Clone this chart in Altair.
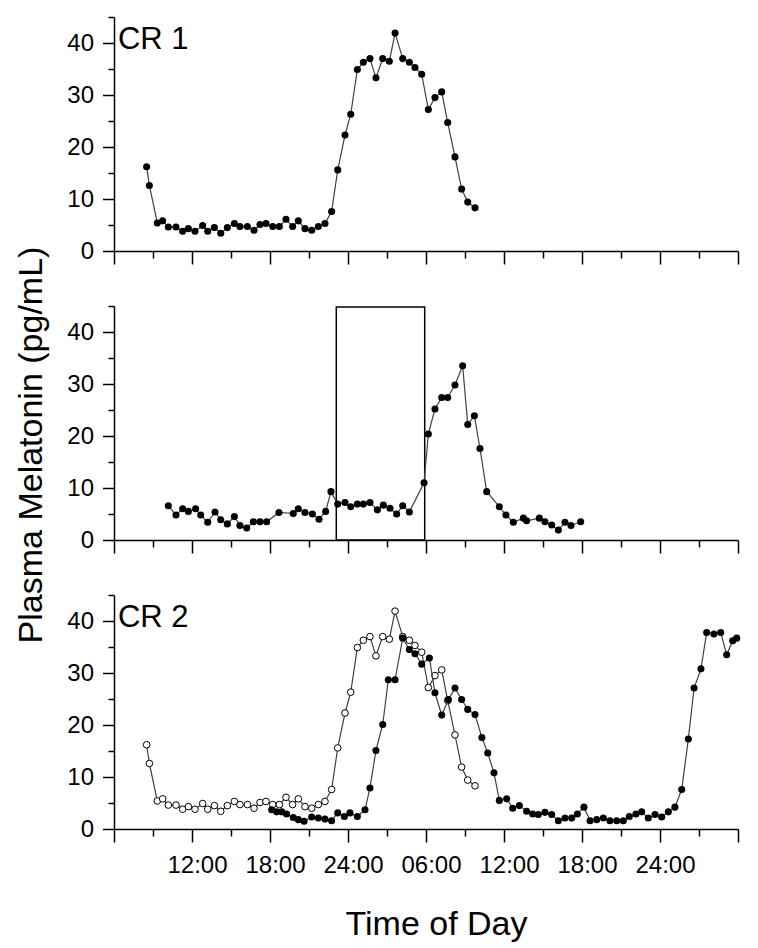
import altair as alt
import pandas as pd

# ---------------- data ----------------
# CR 1 (top panel; also repeated as open circles in the bottom panel)
CR1_T = [8.51, 8.72, 9.33, 9.74, 10.18, 10.77, 11.28, 11.72, 12.23, 12.82,
         13.21, 13.72, 14.21, 14.72, 15.26, 15.69, 16.26, 16.77, 17.23, 17.69,
         18.21, 18.72, 19.23, 19.74, 20.18, 20.69, 21.21, 21.72, 22.23, 22.74,
         23.21, 23.77, 24.21, 24.72, 25.18, 25.69, 26.15, 26.67, 27.18, 27.62,
         28.21, 28.72, 29.15, 29.67, 30.18, 30.69, 31.21, 31.67, 32.23, 32.74,
         33.21, 33.77]
CR1_V = [16.2, 12.6, 5.4, 5.8, 4.6, 4.6, 3.8, 4.3, 3.8, 4.9,
         3.8, 4.5, 3.4, 4.5, 5.3, 4.7, 4.7, 4.0, 5.1, 5.3,
         4.7, 4.7, 6.1, 4.7, 5.8, 4.3, 4.0, 4.7, 5.3, 7.6,
         15.6, 22.3, 26.3, 34.9, 36.3, 37.0, 33.3, 37.0, 36.5, 41.9,
         37.0, 36.3, 35.3, 34.0, 27.2, 29.5, 30.6, 24.7, 18.1, 11.9,
         9.4, 8.3]

# middle panel
MID_T = [10.18, 10.77, 11.28, 11.72, 12.28, 12.67, 13.21, 13.77, 14.21, 14.72,
         15.26, 15.69, 16.21, 16.72, 17.23, 17.74, 18.69, 19.79, 20.18, 20.69,
         21.26, 21.77, 22.28, 22.69, 23.21, 23.77, 24.21, 24.72, 25.18, 25.69,
         26.26, 26.72, 27.23, 27.74, 28.21, 28.72, 29.85, 30.18, 30.69, 31.21,
         31.67, 32.23, 32.82, 33.21, 33.72, 34.15, 34.67, 35.64, 36.15, 36.72,
         37.49, 37.74, 38.72, 39.15, 39.67, 40.18, 40.69, 41.15, 41.9]
MID_V = [6.6, 4.8, 6.0, 5.5, 6.0, 4.8, 3.4, 5.4, 3.9, 3.1,
         4.5, 2.8, 2.3, 3.5, 3.5, 3.5, 5.3, 5.1, 6.0, 5.3,
         5.0, 4.0, 5.5, 9.3, 6.9, 7.2, 6.4, 6.9, 6.9, 7.2,
         5.8, 6.7, 6.1, 5.0, 6.6, 5.4, 11.0, 20.4, 25.2, 27.4,
         27.4, 29.8, 33.5, 22.2, 23.9, 17.6, 9.3, 6.4, 4.8, 3.4,
         4.2, 3.7, 4.2, 3.5, 2.9, 1.9, 3.4, 2.8, 3.5]

# box drawn in the middle panel
BOX_START = [23.1]
BOX_END = [29.9]
BOX_BOTTOM = [0]
BOX_TOP = [44.8]

# CR 2 (bottom panel, filled circles)
CR2_T = [18.13, 18.51, 18.9, 19.28, 19.79, 20.18, 20.62, 21.21, 21.72, 22.23,
         22.74, 23.21, 23.72, 24.15, 24.72, 25.31, 25.69, 26.15, 26.67, 27.10,
         27.62, 28.21, 28.72, 29.15, 29.67, 30.26, 30.69, 31.21, 31.72, 32.23,
         32.74, 33.21, 33.77, 34.3, 34.75, 35.23, 35.64, 36.21, 36.67, 37.18,
         37.74, 38.21, 38.64, 39.15, 39.67, 40.18, 40.69, 41.21, 41.64, 42.15,
         42.62, 43.13, 43.64, 44.15, 44.67, 45.18, 45.64, 46.15, 46.59, 47.10,
         47.62, 48.13, 48.64, 49.15, 49.67, 50.18, 50.62, 51.15, 51.59, 52.15,
         52.67, 53.13, 53.59, 53.9]
CR2_V = [3.7, 3.3, 3.3, 2.9, 2.2, 1.8, 1.5, 2.3, 2.1, 1.9,
         1.6, 3.1, 2.4, 3.1, 2.4, 3.7, 7.9, 15.1, 20.1, 28.7,
         28.7, 36.7, 34.5, 33.7, 31.7, 32.9, 26.2, 21.9, 24.9, 27.1,
         24.9, 23.0, 22.0, 17.6, 14.6, 10.8, 5.5, 5.8, 4.0, 4.5,
         3.4, 2.9, 2.8, 3.2, 2.8, 1.6, 2.1, 2.1, 2.9, 4.2,
         1.6, 1.8, 2.1, 1.6, 1.6, 1.6, 2.4, 2.9, 3.3, 2.1,
         2.8, 2.3, 3.3, 4.2, 7.6, 17.3, 27.1, 30.8, 37.8, 37.5,
         37.8, 33.5, 36.2, 36.7]

# axis ticks (hours from midnight of day 1)
X_MAJOR = [6, 12, 18, 24, 30, 36, 42, 48, 54]
X_MINOR = [9, 15, 21, 27, 33, 39, 45, 51]
Y_MAJOR = [0, 10, 20, 30, 40]
Y_MINOR = [5, 15, 25, 35, 45]

# ---------------- chart ----------------
FONT = "Liberation Sans"
W, H = 624, 234
LINE_COLOR = "#404040"
DOT_SIZE = 50

cr1 = pd.DataFrame({"t": CR1_T, "v": CR1_V})
mid = pd.DataFrame({"t": MID_T, "v": MID_V})
cr2 = pd.DataFrame({"t": CR2_T, "v": CR2_V})
box = pd.DataFrame({"t0": BOX_START, "t1": BOX_END, "v0": BOX_BOTTOM, "v1": BOX_TOP})

xs = alt.Scale(domain=[6, 54], nice=False, zero=False)
ys = alt.Scale(domain=[0, 45], nice=False, zero=True)

LABEL_EXPR = ("(datum.value == 6 || datum.value == 54) ? '' : "
              "((datum.value % 24) == 0 ? '24:00' : "
              "(((datum.value % 24) < 10) ? '0' : '') + (datum.value % 24) + ':00')")


def x_major(labels, title=None):
    kw = dict(values=X_MAJOR, orient="bottom", tickSize=13, tickWidth=1.5,
              domainWidth=1.5, grid=False, labels=labels)
    if labels:
        kw.update(labelExpr=LABEL_EXPR, labelFontSize=24, labelPadding=11,
                  labelOffset=5, labelFlush=False, labelOverlap=False)
    if title:
        kw.update(title=title, titleFontSize=34, titleFontWeight="normal",
                  titleX=322, titleY=105.6, titleBaseline="alphabetic",
                  titleAlign="center")
    else:
        kw["title"] = None
    return alt.Axis(**kw)


def x_minor():
    return alt.Axis(values=X_MINOR, orient="bottom", tickSize=7, tickWidth=1.5,
                    domain=False, labels=False, grid=False, title=None)


def y_major(title=None):
    kw = dict(values=Y_MAJOR, orient="left", tickSize=11.5, tickWidth=1.5,
              domainWidth=1.5, grid=False, labelFontSize=24, labelPadding=9,
              format="d")
    if title:
        kw.update(title=title, titleFontSize=34, titleFontWeight="normal",
                  titleAngle=270, titleX=-73, titleY=138.5,
                  titleBaseline="alphabetic", titleAlign="center")
    else:
        kw["title"] = None
    return alt.Axis(**kw)


def y_minor():
    return alt.Axis(values=Y_MINOR, orient="left", tickSize=6, tickWidth=1.5,
                    domain=False, labels=False, grid=False, title=None)


def line(df, xa, ya):
    return alt.Chart(df).mark_line(color=LINE_COLOR, strokeWidth=1.2).encode(
        x=alt.X("t:Q", scale=xs, axis=xa),
        y=alt.Y("v:Q", scale=ys, axis=ya),
    )


def dots(df, xa, ya, open_=False):
    if open_:
        mk = alt.Chart(df).mark_point(shape="circle", filled=True, fill="white",
                                      stroke="black", strokeWidth=1, size=DOT_SIZE - 6,
                                      opacity=1)
    else:
        mk = alt.Chart(df).mark_point(shape="circle", filled=True, color="black",
                                      size=DOT_SIZE, opacity=1)
    return mk.encode(
        x=alt.X("t:Q", scale=xs, axis=xa),
        y=alt.Y("v:Q", scale=ys, axis=ya),
    )


def label(txt):
    return alt.Chart(pd.DataFrame({"a": [0]})).mark_text(
        text=txt, font=FONT, fontSize=31, align="left", baseline="middle",
        color="black").encode(
        x=alt.XDatum(6.3, type="quantitative", scale=xs, axis=None),
        y=alt.YDatum(40.5, type="quantitative", scale=ys, axis=None),
    )


p1 = alt.layer(
    line(cr1, x_major(False), y_major()),
    dots(cr1, x_minor(), y_minor()),
    label("CR 1"),
).resolve_axis(x="independent", y="independent").properties(width=W, height=H)

rect = alt.Chart(box).mark_rect(fillOpacity=0, stroke="black", strokeWidth=1.5).encode(
    x=alt.X("t0:Q", scale=xs, axis=None),
    x2="t1:Q",
    y=alt.Y("v0:Q", scale=ys, axis=None),
    y2="v1:Q",
)

p2 = alt.layer(
    rect,
    line(mid, x_major(False), y_major("Plasma Melatonin (pg/mL)")),
    dots(mid, x_minor(), y_minor()),
).resolve_axis(x="independent", y="independent").properties(width=W, height=H)

p3 = alt.layer(
    line(cr1, None, None),
    dots(cr1, None, None, open_=True),
    line(cr2, x_major(True, "Time of Day"), y_major()),
    dots(cr2, x_minor(), y_minor()),
    label("CR 2"),
).resolve_axis(x="independent", y="independent").properties(width=W, height=H)

chart = alt.vconcat(p1, p2, p3, spacing=55, bounds="flush").properties(
    padding={"left": 5, "top": 8, "right": 5, "bottom": 0}
).configure(font=FONT).configure_view(stroke=None).configure_axis(
    domainColor="black", tickColor="black", labelColor="black",
    titleColor="black", labelFont=FONT, titleFont=FONT,
)

chart.save("out.html", embed_options={"renderer": "svg", "actions": False})
